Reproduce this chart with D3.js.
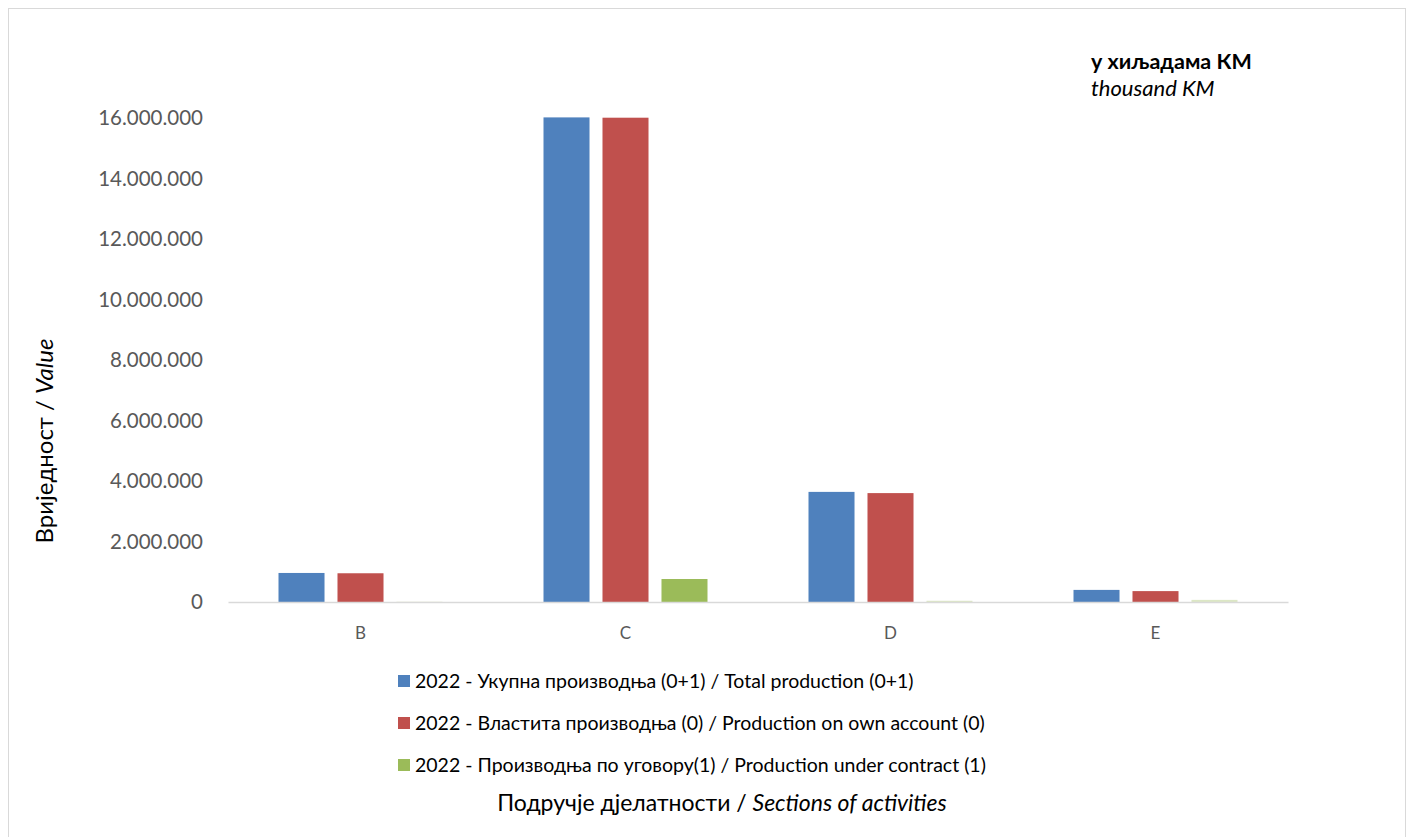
<!DOCTYPE html>
<meta charset="utf-8">
<style>
body { margin: 0; background: #fff; }
text { font-family: Lato, "Open Sans", sans-serif; }
.axis--y path, .axis--y line { display: none; }
.axis--y text { fill: #595959; font-size: 20.5px; }
.axis--x line { display: none; }
.axis--x path { stroke: #d9d9d9; stroke-width: 1.5; }
.axis--x text { fill: #595959; font-size: 17px; }
.legend text { font-size: 19.5px; fill: #000; }
</style>
<svg width="1408" height="837"></svg>
<script src="https://d3js.org/d3.v7.min.js"></script>
<script>

var categories = ["B", "C", "D", "E"];
var seriesNames = [
  "2022 - Укупна производња (0+1) / Total production (0+1)",
  "2022 - Властита производња (0) / Production on own account (0)",
  "2022 - Производња по уговору(1) / Production under contract (1)"
];
var totalProduction = [960000, 16020000, 3640000, 400000];
var ownAccount = [950000, 16010000, 3600000, 360000];
var underContract = [8000, 760000, 40000, 70000];
var colors = ["#4f81bd", "#c0504d", "#9bbb59"];
var yTicks = [0, 2000000, 4000000, 6000000, 8000000, 10000000, 12000000, 14000000, 16000000];

var series = [totalProduction, ownAccount, underContract];

var svg = d3.select("svg"),
    margin = {top: 118, left: 228},
    width = 1060,
    height = 484;

svg.append("rect")
    .attr("x", 8.5).attr("y", 8.5)
    .attr("width", 1397).attr("height", 840)
    .attr("fill", "#fff").attr("stroke", "#d9d9d9");

var x0 = d3.scaleBand().domain(categories).range([0, width]).padding(0);
var groupW = 164;
var x1 = d3.scaleBand().domain(d3.range(series.length))
    .range([(x0.bandwidth() - groupW) / 2, (x0.bandwidth() + groupW) / 2])
    .paddingInner(0.22).paddingOuter(0);
var y = d3.scaleLinear().domain([0, 16000000]).range([height, 0]);

var g = svg.append("g")
    .attr("transform", "translate(" + margin.left + "," + margin.top + ")");

var fmt = function(d) { return d3.format(",")(d).replace(/,/g, "."); };

g.append("g")
    .attr("class", "axis axis--y")
    .call(d3.axisLeft(y).tickValues(yTicks).tickFormat(fmt).tickSize(0).tickPadding(25));

categories.forEach(function(c, i) {
  g.selectAll(".bar-" + i)
    .data(series.map(function(s, k) { return {k: k, v: s[i]}; }))
    .enter().append("rect")
      .attr("x", function(d) { return x0(c) + x1(d.k); })
      .attr("y", function(d) { return y(d.v); })
      .attr("width", x1.bandwidth())
      .attr("height", function(d) { return height - y(d.v); })
      .attr("fill", function(d) { return colors[d.k]; })
      .attr("opacity", function(d) { return d.v < 100000 ? 0.35 : 1; });
});

g.append("g")
    .attr("class", "axis axis--x")
    .attr("transform", "translate(0," + height + ")")
    .call(d3.axisBottom(x0).tickSize(0).tickSizeOuter(0).tickPadding(25));

svg.append("text")
    .attr("transform", "translate(53,441) rotate(-90)")
    .attr("text-anchor", "middle")
    .style("font-size", "24px")
    .html("Вриједност / <tspan font-style='italic'>Value</tspan>");

var legend = svg.append("g").attr("class", "legend");
seriesNames.forEach(function(name, i) {
  var ly = 681 + i * 42;
  legend.append("rect")
      .attr("x", 398).attr("y", ly - 6)
      .attr("width", 12).attr("height", 12)
      .attr("fill", colors[i]);
  legend.append("text")
      .attr("x", 415).attr("y", ly + 7)
      .text(name);
});

svg.append("text")
    .attr("x", 722).attr("y", 811)
    .attr("text-anchor", "middle")
    .style("font-size", "23px")
    .html("Подручје дјелатности / <tspan font-style='italic'>Sections of activities</tspan>");

svg.append("text")
    .attr("x", 1091).attr("y", 69)
    .style("font-size", "21.5px").style("font-weight", "bold")
    .text("у хиљадама КМ");
svg.append("text")
    .attr("x", 1091).attr("y", 96)
    .style("font-size", "22px").style("font-style", "italic")
    .text("thousand KM");

</script>
